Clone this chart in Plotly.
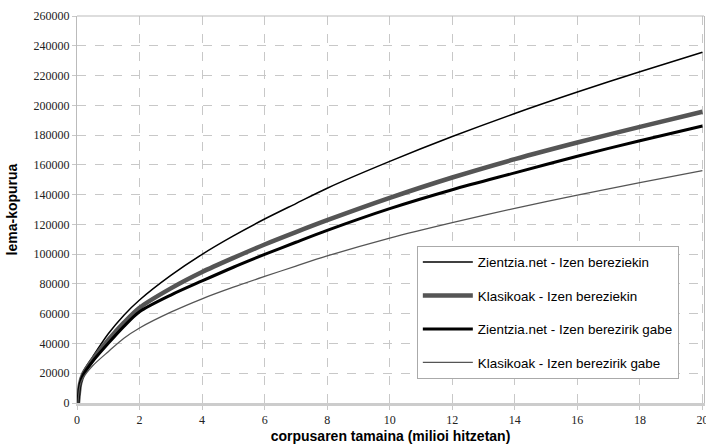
import plotly.graph_objects as go

x_vals = [0.03, 0.1, 0.2, 0.5, 1, 1.5, 2, 3, 4, 5, 6, 7, 8, 10, 12, 14, 16, 18, 20]

zientzia_izen = [0, 14000, 21000, 31000, 46500, 59000, 69200, 85700, 99900, 112300, 123600,
                 134000, 144300, 162300, 179000, 194500, 208900, 222600, 235600]
klasikoak_izen = [0, 13000, 19500, 29000, 42300, 54000, 64000, 77000, 88000, 97500, 106500,
                  114800, 122800, 137800, 151500, 163800, 175000, 185500, 195700]
zientzia_gabe = [0, 13000, 19000, 28000, 40100, 51500, 61300, 72500, 82000, 91200, 99800,
                 108000, 116000, 130600, 143300, 154600, 165800, 176200, 186100]
klasikoak_gabe = [0, 12000, 17000, 25000, 34500, 43500, 50400, 61000, 70000, 77800, 85000,
                  92000, 98800, 110800, 121200, 130800, 139700, 148000, 156100]

names = ["Zientzia.net - Izen bereziekin", "Klasikoak - Izen bereziekin",
         "Zientzia.net - Izen berezirik gabe", "Klasikoak - Izen berezirik gabe"]
series = [zientzia_izen, klasikoak_izen, zientzia_gabe, klasikoak_gabe]
colors = ["#000000", "#555555", "#000000", "#555555"]
widths = [1.5, 4.5, 3, 1.3]

x_ticks = [0, 2, 4, 6, 8, 10, 12, 14, 16, 18, 20]
y_ticks = list(range(0, 260001, 20000))

fig = go.Figure()
for i, (n, s) in enumerate(zip(names, series)):
    fig.add_trace(go.Scatter(x=x_vals, y=s, mode="lines", name=n,
                             legendgroup=f"g{i}",
                             line=dict(color=colors[i], width=widths[i], shape="spline", smoothing=0.8)))

tickfont = dict(family="Liberation Serif, Times New Roman, serif", size=12, color="#222")
titlefont = dict(family="Liberation Sans, Arial, sans-serif", size=14, color="#000")
fig.update_layout(
    width=706, height=448,
    margin=dict(l=77, r=2, t=16, b=45),
    paper_bgcolor="white", plot_bgcolor="white",
    showlegend=True,
    legend=dict(x=0.542, y=0.406, xanchor="left", yanchor="top",
                bgcolor="white", bordercolor="#aaaaaa", borderwidth=1,
                font=dict(family="Liberation Sans, Arial, sans-serif", size=13.4, color="#000"),
                tracegroupgap=13, traceorder="grouped", itemwidth=50),
    xaxis=dict(range=[0, 20.05], tickvals=x_ticks, ticktext=[str(v) for v in x_ticks],
               showgrid=True, gridcolor="#c8c8c8", griddash="dash", gridwidth=1,
               showline=True, linecolor="#cccccc", linewidth=3, mirror=False,
               ticks="outside", ticklen=4, tickcolor="#c8c8c8",
               tickfont=tickfont, zeroline=False, automargin=False,
               ticklabeloverflow="allow",
               title=dict(text="<b>corpusaren tamaina (milioi hitzetan)</b>",
                          font=titlefont, standoff=5)),
    yaxis=dict(range=[0, 260000], tickvals=y_ticks, ticktext=[str(v) for v in y_ticks],
               showgrid=True, gridcolor="#c8c8c8", griddash="dash", gridwidth=1,
               showline=True, linecolor="#bbbbbb", linewidth=1, mirror=True,
               ticks="outside", ticklen=4, tickcolor="#c8c8c8",
               tickfont=tickfont, zeroline=False, automargin=False,
               title=dict(text="<b>lema-kopurua</b>", font=titlefont, standoff=12)),
    shapes=[dict(type="line", xref="paper", yref="paper", x0=0, x1=1, y0=1, y1=1,
                 line=dict(color="#bbbbbb", width=1))],
)
fig.write_html("out.html", config={"displayModeBar": False},
               post_script="document.body.style.margin='0';")
